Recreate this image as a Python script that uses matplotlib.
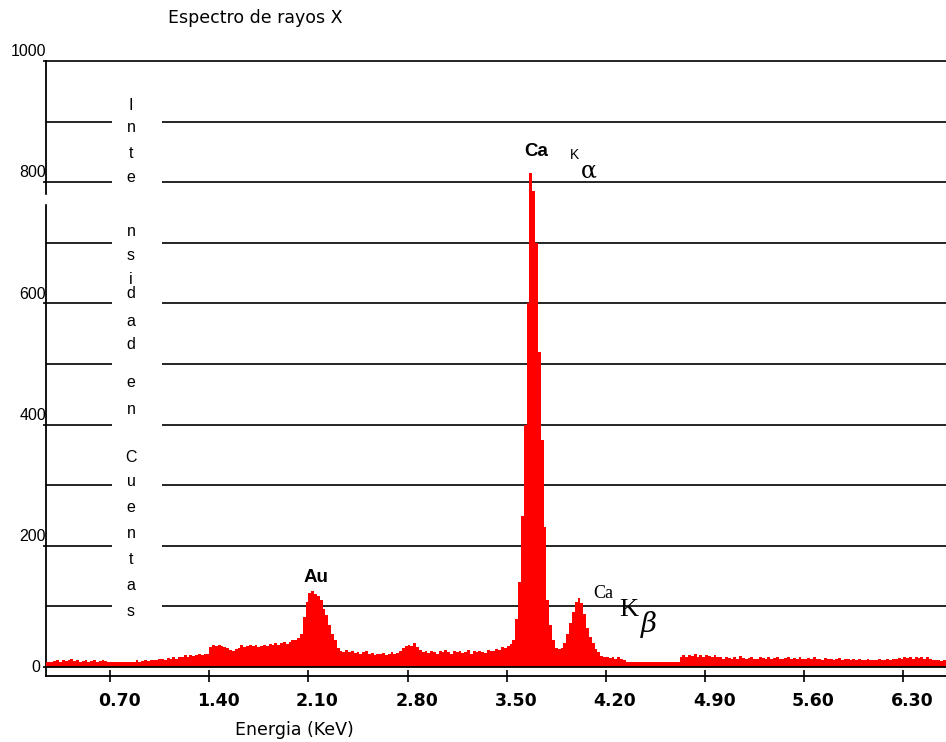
import numpy as np
import matplotlib
matplotlib.use("Agg")
import matplotlib.pyplot as plt
import matplotlib.transforms as mtransforms

plt.rcParams['font.family'] = ['Liberation Sans', 'DejaVu Sans']

# canales de 0.02 keV, el primero centrado en 0.25 keV
e_start = 0.25
e_step = 0.02

# 0.25 - 1.39 keV
counts_low = [8, 9, 8, 10, 11, 9, 12, 10, 11, 13, 10,
              11, 9, 10, 12, 9, 10, 11, 9, 10, 12, 10, 9,
              9, 9, 8, 9, 9, 9, 8, 8, 9, 11, 9, 10, 12, 10, 11,
              12, 11, 13, 14, 12, 15, 13, 17, 14, 16,
              17, 19, 16, 20, 18, 19, 22, 20, 21, 22]
# 1.41 - 3.49 keV (pico Au)
counts_au = [33, 36, 34, 37, 35, 33, 31, 28, 27, 29,
             31, 36, 33, 35, 37, 34, 36, 33, 35, 37,
             34, 38, 36, 40, 37, 39, 41, 38, 42, 44,
             45, 48, 55, 82, 108, 122, 125, 121, 117, 110,
             95, 85, 70, 55, 45, 32, 27, 25, 28, 24,
             26, 23, 25, 22, 24, 26, 21, 23, 20, 22,
             21, 23, 20, 22, 24, 21, 23, 27, 31, 34,
             36, 35, 40, 33, 28, 24, 26, 23, 27, 25,
             22, 26, 24, 28, 25, 22, 27, 24, 26, 23,
             25, 28, 22, 26, 24, 27, 25, 23, 28, 26,
             27, 30, 28, 33, 31]
# 3.51 - 4.19 keV (Ca K alfa y K beta)
counts_ca = [34, 38, 45, 80, 140, 250, 400, 600, 816, 785,
             700, 520, 375, 231, 110, 70, 45, 32, 30, 32,
             40, 55, 72, 90, 108, 114, 105, 88, 65, 50,
             40, 30, 24, 18, 16]
# 4.21 - 6.59 keV
counts_high = [16, 15, 17, 14, 16, 13, 12,
               9, 9, 9, 9, 9, 9, 9, 9, 9, 9, 9, 9, 9, 9, 9, 9, 9, 9, 9,
               17, 19, 16, 20, 18, 21, 17, 19, 16, 20, 18, 17, 19, 16,
               16, 14, 17, 15, 13, 16, 14, 18, 15, 13,
               15, 17, 14, 13, 16, 15, 14, 17, 13, 15,
               16, 14, 13, 15, 17, 14, 15, 13, 16, 14,
               13, 15, 14, 16, 13, 14, 12, 15, 13, 14,
               12, 13, 15, 12, 14, 13, 12, 14, 12, 13,
               12, 11, 13, 12, 11, 12, 14, 12, 11, 13,
               12, 14, 13, 15, 14, 16, 15, 17, 14, 16,
               15, 17, 14, 16, 13, 12, 11, 12, 10, 11]

x_ticks = [0.70, 1.40, 2.10, 2.80, 3.50, 4.20, 4.90, 5.60, 6.30]
x_ticklabels = ["0.70", "1.40", "2.10", "2.80", "3.50", "4.20", "4.90", "5.60", "6.30"]
y_labels = [0, 200, 400, 600, 800, 1000]
grid_levels = [100, 200, 300, 400, 500, 600, 700, 800, 900, 1000]
y_letters = ["I", "n", "t", "e", "n", "s", "i", "d", "a", "d", "e", "n",
             "C", "u", "e", "n", "t", "a", "s"]
y_letters_px = [105, 128, 153, 178, 232, 256, 279, 294, 321, 345, 383, 409,
                457, 482, 507, 533, 560, 586, 611]

counts = np.array(counts_low + counts_au + counts_ca + counts_high)
edges = e_start - e_step / 2 + e_step * np.arange(len(counts) + 1)

W, H = 946, 742
def fx(x):
    return x / W
def fy(y):
    return 1 - y / H

fig = plt.figure(figsize=(W / 100, H / 100), dpi=100)
ax = fig.add_axes([fx(46), fy(676), 900 / W, 615 / H])

x_min, x_max = 0.248, 6.60
ax.set_xlim(x_min, x_max)
ax.set_ylim(-14.85, 1000)

#cuadricula con hueco para el rotulo vertical
for v in grid_levels:
    ax.hlines(v, x_min, x_max, color='black', lw=1.2, zorder=1, clip_on=False)
ax.axvspan(0.714, 1.067, ymin=0.06, ymax=0.95, color='white', zorder=1.5, lw=0)
ax.axhline(0, color='black', lw=1.3, zorder=4)

ax.stairs(counts, edges, fill=True, color='#ff0000', baseline=0, zorder=3)

for s in ['top', 'right']:
    ax.spines[s].set_visible(False)
for s in ['left', 'bottom']:
    ax.spines[s].set_linewidth(1.3)

ax.set_xticks(x_ticks)
ax.set_xticklabels(x_ticklabels, fontsize=12.5, fontweight='bold', family='DejaVu Sans')
ax.tick_params(axis='x', direction='inout', length=9, width=1.2, pad=7)
offset = mtransforms.ScaledTranslation(9 / 100, 0, fig.dpi_scale_trans)
for lab in ax.get_xticklabels():
    lab.set_transform(lab.get_transform() + offset)

ax.set_yticks(y_labels)
ax.set_yticklabels([])
ax.tick_params(axis='y', direction='out', length=2, width=1.2)

trans = mtransforms.blended_transform_factory(ax.transAxes, ax.transData)
for v in y_labels:
    if v == 0:
        ax.text(-0.006, v, str(v), transform=trans, ha='right', va='center', fontsize=11.5)
    else:
        ax.text(0.0, v + 3, str(v), transform=trans, ha='right', va='bottom', fontsize=11.5)

for ch, yp in zip(y_letters, y_letters_px):
    fig.text(fx(131), fy(yp), ch, ha='center', va='center', fontsize=11.5)

# corte del eje vertical
fig.patches.append(plt.Rectangle((fx(43), fy(203)), 6 / W, 8 / H, color='white',
                                 transform=fig.transFigure, zorder=10))

fig.text(fx(168), fy(18), "Espectro de rayos X", ha='left', va='center', fontsize=12.5,
         family='DejaVu Sans')
fig.text(fx(235), fy(730), "Energia (KeV)", ha='left', va='center', fontsize=12.5,
         family='DejaVu Sans')

fig.text(fx(316), fy(577), "Au", ha='center', va='center', fontsize=13.5, fontweight='bold')
fig.text(fx(536), fy(152), "Ca", ha='center', va='center', fontsize=13.5, fontweight='bold')
fig.text(fx(574), fy(155), "K", ha='center', va='center', fontsize=10)
fig.text(fx(589), fy(171), "α", ha='center', va='center', fontsize=17, family='DejaVu Serif')
fig.text(fx(603), fy(593), "Ca", ha='center', va='center', fontsize=13, family='Liberation Serif')
fig.text(fx(629), fy(610), "K", ha='center', va='center', fontsize=19, family='Liberation Serif')
fig.text(fx(649), fy(625), "β", ha='center', va='center', fontsize=20, family='DejaVu Serif',
         style='italic')

fig.savefig("out.png", dpi=100)
